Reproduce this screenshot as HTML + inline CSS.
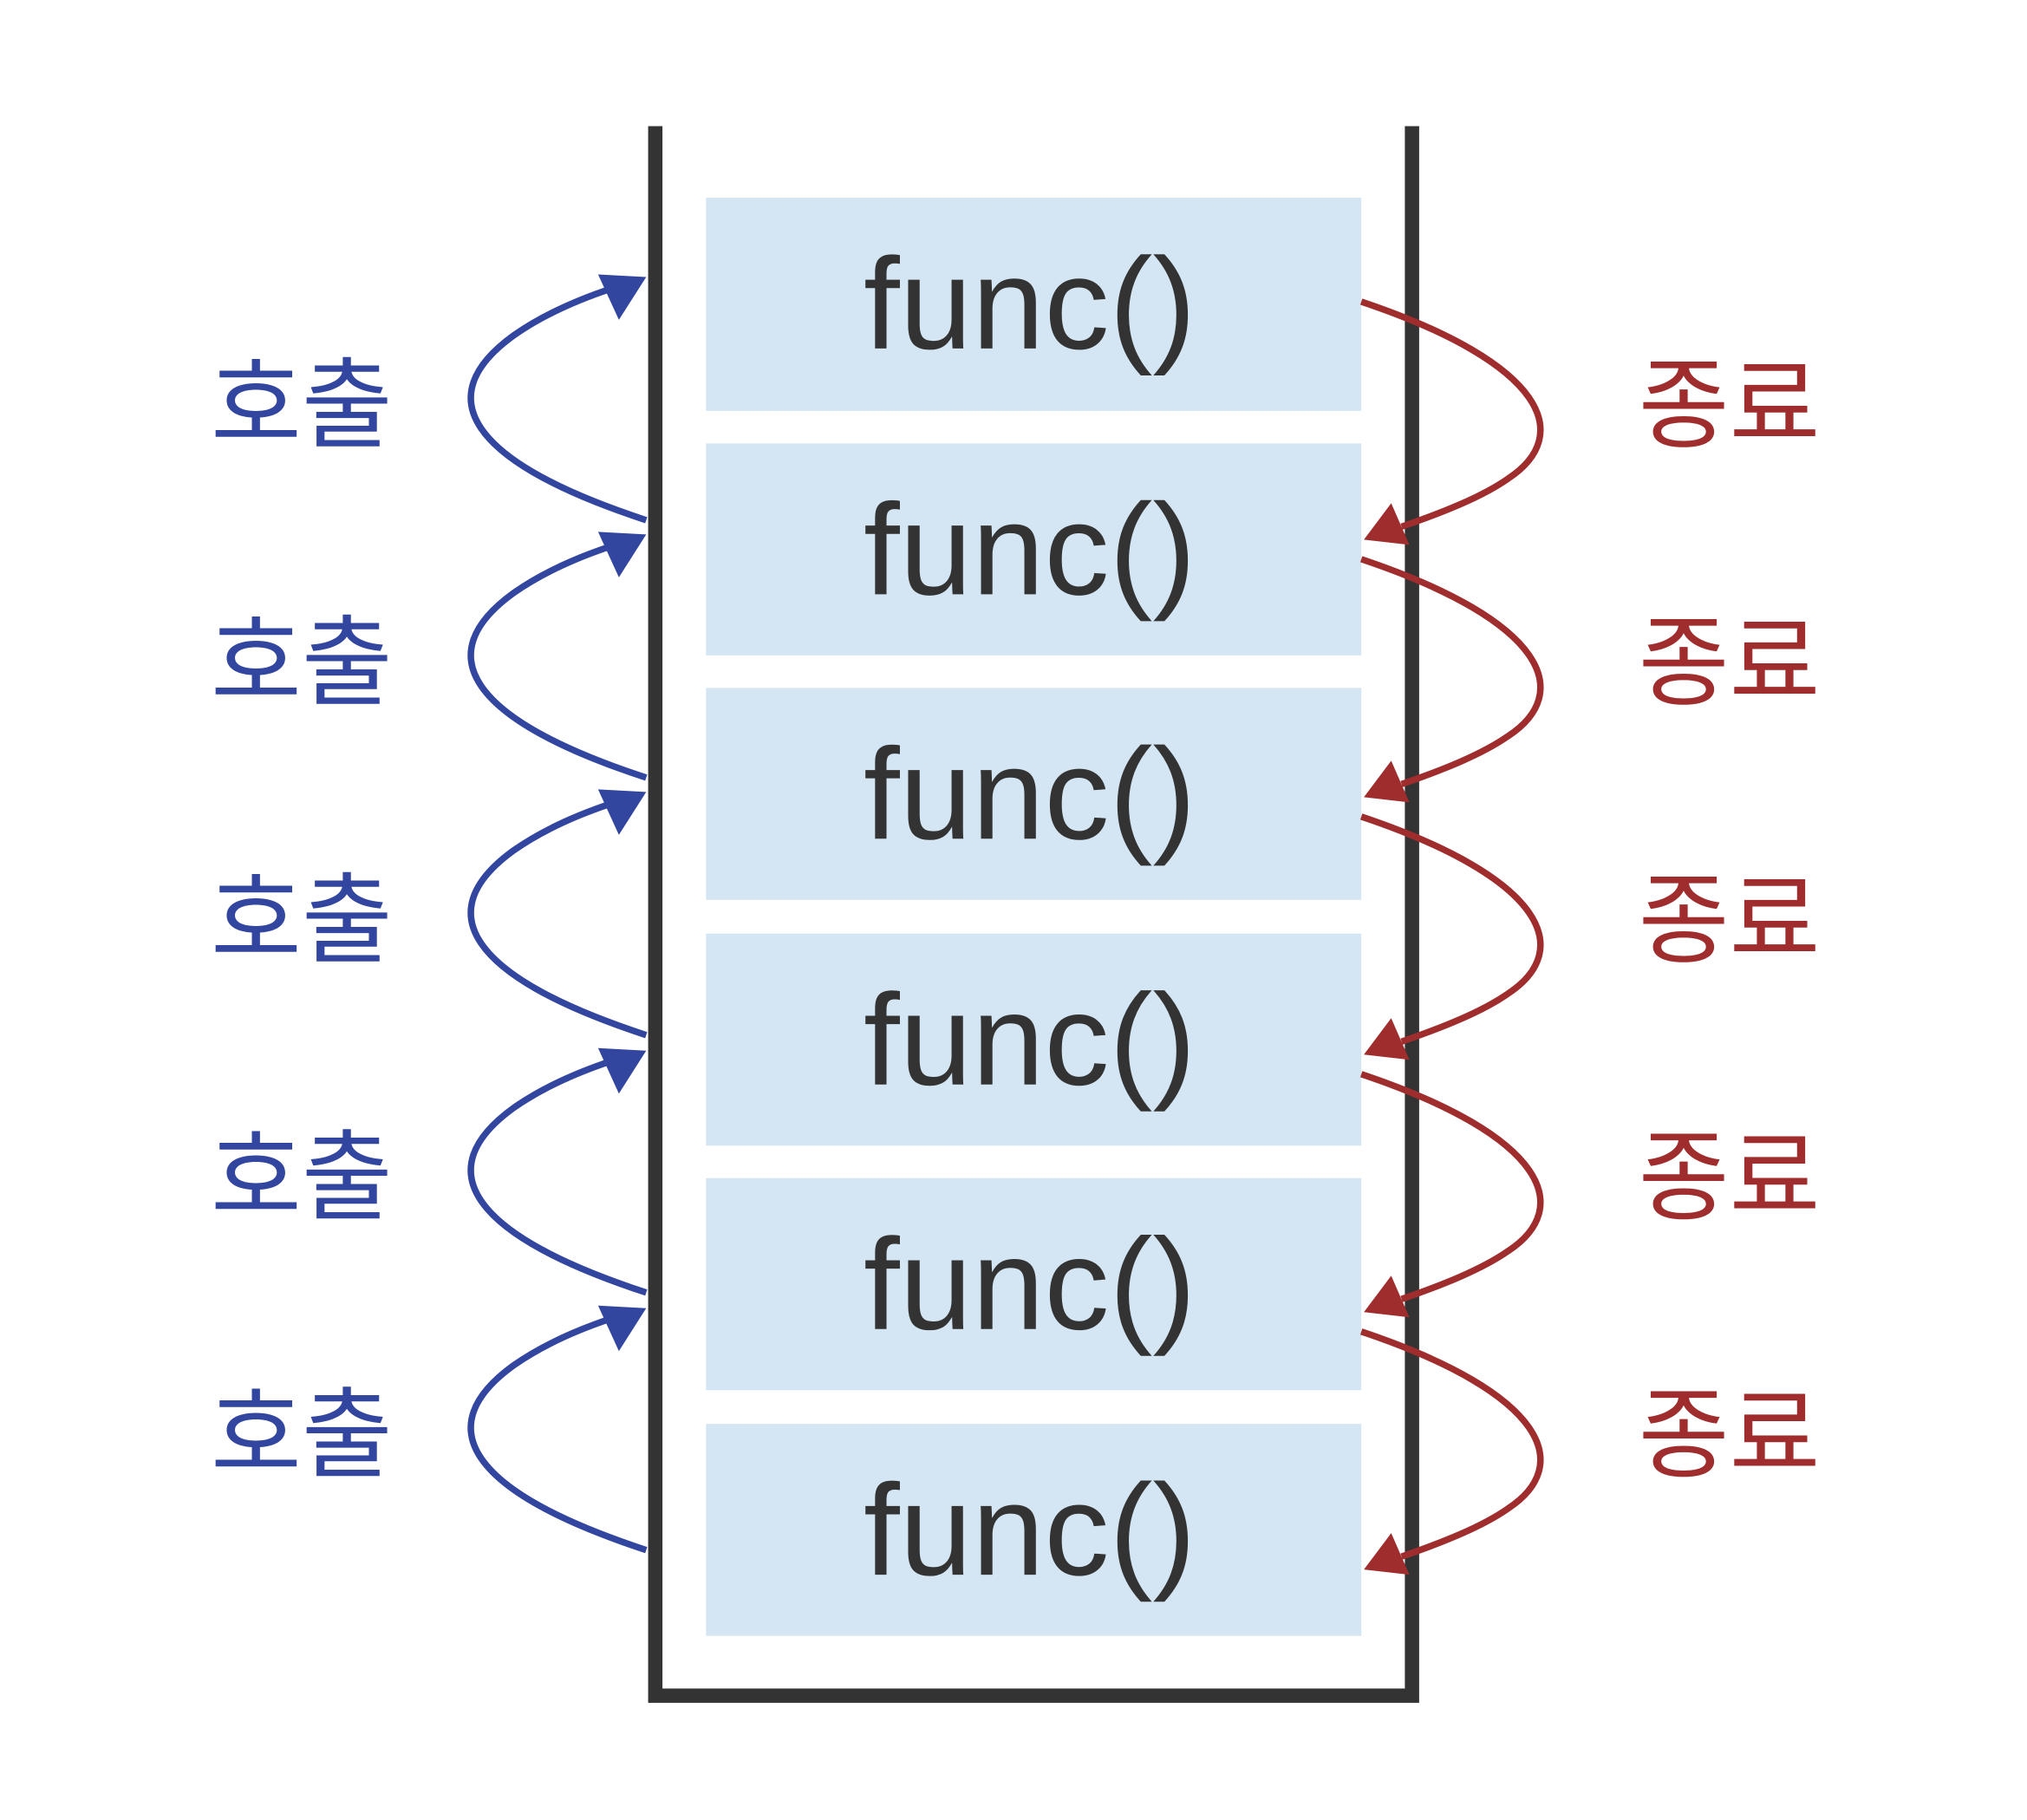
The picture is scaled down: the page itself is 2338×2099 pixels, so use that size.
<!DOCTYPE html>
<html><head><meta charset="utf-8"><style>
html,body{margin:0;padding:0;background:#fff;}
svg{display:block;}
</style></head><body>
<svg width="2338" height="2099" viewBox="0 0 1559 1399.6" preserveAspectRatio="none" xmlns="http://www.w3.org/2000/svg">
<defs>
<marker id="mb" markerWidth="10" markerHeight="10" refX="9" refY="5" orient="auto" markerUnits="userSpaceOnUse" viewBox="0 0 10 10">
</marker>
</defs>
<g fill="#d4e6f3">
<rect x="543" y="152" width="504" height="164"/>
<rect x="543" y="341" width="504" height="163"/>
<rect x="543" y="529" width="504" height="163"/>
<rect x="543" y="718" width="504" height="163"/>
<rect x="543" y="906" width="504" height="163"/>
<rect x="543" y="1095" width="504" height="163"/>
</g>
<path d="M504,97 V1304 H1086 V97" fill="none" stroke="#333" stroke-width="11"/>
<g font-family="Liberation Sans, sans-serif" font-size="100" fill="#333" text-anchor="middle">
<text x="792" y="268">func()</text>
<text x="792" y="457">func()</text>
<text x="792" y="645">func()</text>
<text x="792" y="834">func()</text>
<text x="792" y="1022">func()</text>
<text x="792" y="1211">func()</text>
</g>
<g id="blue">
<g fill="none" stroke="#3246a0" stroke-width="5">
<path d="M497,400 C360,355 330,305 395,258 C415,244 440,232 470,222"/>
<path d="M497,598 C360,553 330,503 395,456 C415,442 440,430 470,420"/>
<path d="M497,796 C360,751 330,701 395,654 C415,640 440,628 470,618"/>
<path d="M497,994 C360,949 330,899 395,852 C415,838 440,826 470,816"/>
<path d="M497,1192 C360,1147 330,1097 395,1050 C415,1036 440,1024 470,1014"/>
</g>
<g fill="#3246a0">
<polygon points="497,213 460,211 476,246"/>
<polygon points="497,411 460,409 476,444"/>
<polygon points="497,609 460,607 476,642"/>
<polygon points="497,808 460,806 476,841"/>
<polygon points="497,1006 460,1004 476,1039"/>
</g>
<g font-family="Liberation Sans, 'Noto Sans CJK KR', sans-serif" font-size="76" fill="#3246a0" text-anchor="middle">
<text x="232" y="338">호출</text>
<text x="232" y="536">호출</text>
<text x="232" y="734">호출</text>
<text x="232" y="932">호출</text>
<text x="232" y="1130">호출</text>
</g>
</g>
<g fill="none" stroke="#a02d2d" stroke-width="5">
<path d="M1047,232 C1190,280 1210,335 1160,368 C1140,382 1110,394 1078,405"/>
<path d="M1047,430 C1190,478 1210,533 1160,566 C1140,580 1110,592 1078,603"/>
<path d="M1047,628 C1190,676 1210,731 1160,764 C1140,778 1110,790 1078,801"/>
<path d="M1047,826 C1190,874 1210,929 1160,962 C1140,976 1110,988 1078,999"/>
<path d="M1047,1024 C1190,1072 1210,1127 1160,1160 C1140,1174 1110,1186 1078,1197"/>
</g>
<g fill="#a02d2d">
<polygon points="1049,415 1084,419 1070,387"/>
<polygon points="1049,613 1084,617 1070,585"/>
<polygon points="1049,811 1084,815 1070,783"/>
<polygon points="1049,1009 1084,1013 1070,981"/>
<polygon points="1049,1207 1084,1211 1070,1179"/>
</g>
<g font-family="Liberation Sans, 'Noto Sans CJK KR', sans-serif" font-size="76" fill="#a02d2d" text-anchor="middle">
<text x="1330" y="338">종료</text>
<text x="1330" y="536">종료</text>
<text x="1330" y="734">종료</text>
<text x="1330" y="932">종료</text>
<text x="1330" y="1130">종료</text>
</g>
</svg>
</body></html>
